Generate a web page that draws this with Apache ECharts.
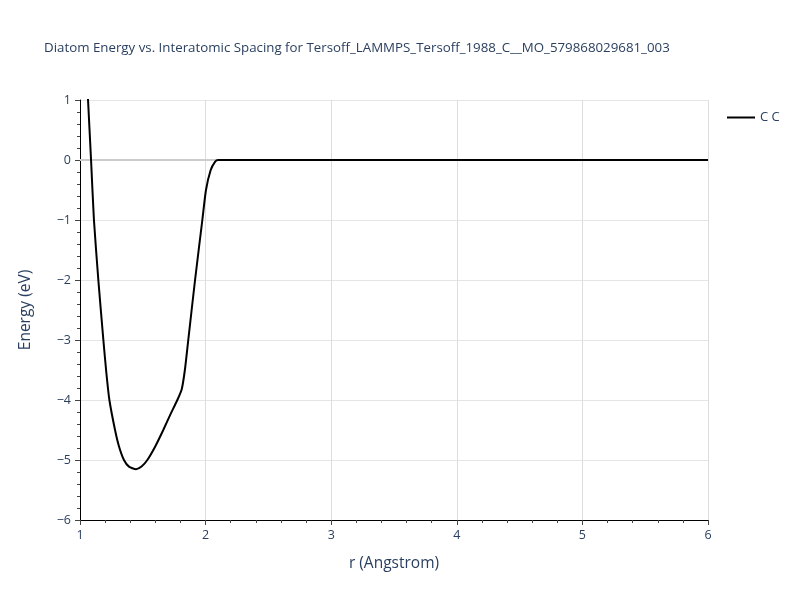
<!DOCTYPE html>
<html>
<head>
<meta charset="utf-8">
<script src="https://cdn.jsdelivr.net/npm/echarts@6/dist/echarts.min.js"></script>
<style>
  html, body { margin: 0; padding: 0; background: #fff; }
  #chart { width: 800px; height: 600px; }
</style>
</head>
<body>
<div id="chart"></div>
<script>
const rValues = [1.05, 1.064, 1.088, 1.111, 1.146, 1.186, 1.21, 1.234, 1.279, 1.31, 1.35, 1.39, 1.446, 1.49, 1.536, 1.60, 1.663, 1.72, 1.775, 1.81, 1.835, 1.862, 1.916, 1.974, 2.003, 2.04, 2.075, 2.1, 6];
const energyCC = [1.6, 1.0, 0, -1, -2, -3, -3.55, -4, -4.5, -4.77, -5.0, -5.11, -5.155, -5.11, -5.0, -4.77, -4.5, -4.24, -4.0, -3.82, -3.5, -3.0, -2.0, -1.0, -0.5, -0.17, -0.03, 0, 0];
const seriesName = "C C";

const font = "Open Sans, Noto Sans, sans-serif";
const textColor = "#2a3f5f";

const chart = echarts.init(document.getElementById("chart"));
const minusFmt = (v) => String(v).replace("-", "\u2212");

chart.setOption({
  animation: false,
  title: {
    text: "Diatom Energy vs. Interatomic Spacing for Tersoff_LAMMPS_Tersoff_1988_C__MO_579868029681_003",
    left: 39,
    top: 37,
    textStyle: { fontFamily: font, fontSize: 13.3, fontWeight: "normal", color: textColor },
  },
  legend: {
    left: 722,
    top: 106,
    itemWidth: 28,
    itemHeight: 14,
    itemGap: 5,
    icon: "path://M0,6 L28,6 L28,8 L0,8 Z",
    textStyle: { fontFamily: font, fontSize: 13, color: textColor },
    data: [seriesName],
  },
  grid: { left: 80, right: 92, top: 100, bottom: 80 },
  xAxis: {
    type: "value",
    min: 1,
    max: 6,
    interval: 1,
    name: "r (Angstrom)",
    nameLocation: "middle",
    nameGap: 36,
    nameTextStyle: { fontFamily: font, fontSize: 15.5, color: textColor },
    axisLine: { onZero: false, lineStyle: { color: "#000", width: 1 } },
    axisTick: { show: true, length: 5, lineStyle: { color: "#444" } },
    minorTick: { show: true, splitNumber: 5, length: 3, lineStyle: { color: "#444" } },
    axisLabel: { fontFamily: font, fontSize: 12.5, color: textColor, margin: 9 },
    splitLine: { show: true, lineStyle: { color: "#ddd", width: 1 } },
  },
  yAxis: {
    type: "value",
    min: -6,
    max: 1,
    interval: 1,
    name: "Energy (eV)",
    nameLocation: "middle",
    nameGap: 46,
    nameTextStyle: { fontFamily: font, fontSize: 15.5, color: textColor },
    axisLine: { show: true, onZero: false, lineStyle: { color: "#000", width: 1 } },
    axisTick: { show: true, length: 5, lineStyle: { color: "#444" } },
    minorTick: { show: true, splitNumber: 5, length: 3, lineStyle: { color: "#444" } },
    axisLabel: { fontFamily: font, fontSize: 12.5, color: textColor, margin: 9, formatter: minusFmt },
    splitLine: { show: true, lineStyle: { color: "#e5e5e5", width: 1 } },
  },
  series: [
    {
      name: seriesName,
      type: "line",
      data: rValues.map((r, i) => [r, energyCC[i]]),
      showSymbol: false,
      smooth: 0.2,
      clip: true,
      lineStyle: { color: "#000", width: 2 },
      itemStyle: { color: "#000" },
      markLine: {
        silent: true,
        symbol: "none",
        label: { show: false },
        lineStyle: { color: "#ccc", width: 2, type: "solid" },
        data: [{ yAxis: 0 }],
        z: 1,
      },
    },
  ],
});
</script>
</body>
</html>
